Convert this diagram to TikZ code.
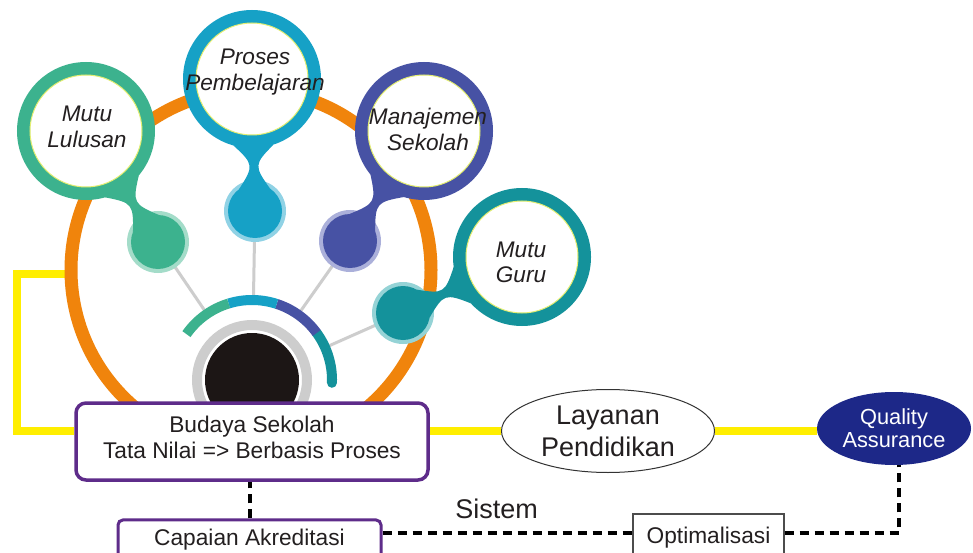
\documentclass[tikz,border=0pt]{standalone}
\usepackage{fontspec}
\setmainfont{Liberation Sans}
\usetikzlibrary{calc,shapes.geometric}
\pgfdeclarelayer{bg}
\pgfsetlayers{bg,main}
\definecolor{cgreen}{HTML}{3CB28E}
\definecolor{cgreenh}{HTML}{A4DCC9}
\definecolor{cblue}{HTML}{16A1C6}
\definecolor{cblueh}{HTML}{90D2E5}
\definecolor{cindigo}{HTML}{4752A4}
\definecolor{cindigoh}{HTML}{ABB0DA}
\definecolor{cteal}{HTML}{14929B}
\definecolor{ctealh}{HTML}{95D3D6}
\definecolor{corange}{HTML}{F0840C}
\definecolor{cyellow}{HTML}{FFEE00}
\definecolor{cpurple}{HTML}{5E2C8A}
\definecolor{cnavy}{HTML}{1D2888}
\definecolor{cgray}{HTML}{CDCDCD}
\definecolor{ctext}{HTML}{231F20}
\definecolor{cinner}{HTML}{E4EE70}
\definecolor{cblack}{HTML}{1C1615}
\newcommand\bubblering[3]{%
  \draw[#3, line width=13, fill=white] (#1,#2) circle[radius=62.5];
  \draw[cinner, line width=1] (#1,#2) circle[radius=56];}
\newcommand\necklink[7]{%
 \pgfmathsetmacro\nA{atan2(#5-#2,#4-#1)}%
 \pgfmathsetmacro\nD{veclen(#4-#1,#5-#2)}%
 \pgfmathsetmacro\nG{\nD-#3-#6}%
 \fill[#7] ({#1+#3*cos(\nA+17)},{#2+#3*sin(\nA+17)})
   .. controls ({#1+(#3+0.45*\nG)*cos(\nA)},{#2+(#3+0.45*\nG)*sin(\nA)}) and ({#1+(#3+0.5*\nG)*cos(\nA)},{#2+(#3+0.5*\nG)*sin(\nA)}) ..
   ({#4+#6*cos(\nA+145)},{#5+#6*sin(\nA+145)})
   -- ({#4+#6*cos(\nA+215)},{#5+#6*sin(\nA+215)})
   .. controls ({#1+(#3+0.5*\nG)*cos(\nA)},{#2+(#3+0.5*\nG)*sin(\nA)}) and ({#1+(#3+0.45*\nG)*cos(\nA)},{#2+(#3+0.45*\nG)*sin(\nA)}) ..
   ({#1+#3*cos(\nA-17)},{#2+#3*sin(\nA-17)}) -- cycle;}
\tikzset{
  bubbletext/.style={font=\itshape\fontsize{22.6}{25.5}\selectfont, text=ctext, align=center, inner sep=0},
  yline/.style={cyellow, line width=8},
  dline/.style={black, line width=4, dash pattern=on 9pt off 6pt},
  pbox/.style={draw=cpurple, fill=white, text=ctext, inner sep=0, align=center, font=\fontsize{22.7}{26}\selectfont},
  spoke/.style={cgray, line width=3},
}
\begin{document}
\begin{tikzpicture}[x=1pt,y=-1pt]
\clip (0,0) rectangle (973,553);
% named points
\coordinate (ctr) at (252,380);
\coordinate (sG) at (158,242);
\coordinate (sB) at (255,211);
\coordinate (sI) at (350,241);
\coordinate (sT) at (403,313);
\coordinate (yl0) at (70,274);
\coordinate (yl1) at (17,274);
\coordinate (dq) at (899,533);
% boxes and ellipses
\node[pbox, line width=3.5, rounded corners=10, minimum width=352, minimum height=77, text depth=8] (budaya) at (252,441.5) {Budaya Sekolah\\Tata Nilai => Berbasis Proses};
\node[pbox, line width=3, rounded corners=5, minimum width=263, minimum height=38.5] (capaian) at (249.5,539.2) {Capaian Akreditasi};
\node[draw=black!70, line width=1.2, fill=white, text=ctext, inner sep=0, minimum width=151, minimum height=46.4, font=\fontsize{22.7}{26}\selectfont] (optim) at (708.5,537.2) {Optimalisasi};
\node[ellipse, draw=black!80, line width=1, fill=white, text=ctext, inner sep=0, minimum width=213, minimum height=83, align=center, font=\fontsize{27}{32}\selectfont] (layanan) at (608,431) {Layanan\\Pendidikan};
\node[ellipse, fill=cnavy, text=white, inner sep=0, minimum width=154, minimum height=73, align=center, font=\fontsize{21.8}{23}\selectfont] (quality) at (894,428.5) {Quality\\Assurance};
\node[text=ctext, inner sep=0, anchor=base, font=\fontsize{27}{30}\selectfont] (sistem) at (496.5,518) {Sistem};
\begin{pgfonlayer}{bg}
\fill[white] (0,0) rectangle (973,553);
% yellow connectors
\draw[yline] (yl0) -- (yl1) -- (yl1 |- layanan.west) -- (budaya.west |- layanan.west);
\draw[yline] (budaya.east |- layanan.west) -- (layanan.west);
\draw[yline] (layanan.east) -- (quality.west |- layanan.east);
% orange ring
\draw[corange, line width=13] (251,270) circle[radius=180];
% spokes
\foreach \s in {sG,sB,sI,sT} \draw[spoke] ($(ctr)!85pt!(\s)$) -- (\s);
% gray ring and black core
\draw[cgray, line width=10] (ctr) circle[radius=55];
\fill[cblack] (ctr) circle[radius=47];
% segmented arc
\draw[cteal, line width=10, line cap=round] ([shift={(36:80pt)}]ctr) arc[start angle=36, end angle=-2, radius=80pt];
\draw[cindigo, line width=10] ([shift={(72:80pt)}]ctr) arc[start angle=72, end angle=36, radius=80pt];
\draw[cblue, line width=10] ([shift={(107:80pt)}]ctr) arc[start angle=107, end angle=72, radius=80pt];
\draw[cgreen, line width=10] ([shift={(145:80pt)}]ctr) arc[start angle=145, end angle=107, radius=80pt];
% halos
\fill[cgreenh] (sG) circle[radius=31];
\fill[cblueh] (sB) circle[radius=31];
\fill[cindigoh] (sI) circle[radius=31];
\fill[ctealh] (sT) circle[radius=31];
% necks
\necklink{86}{131}{69}{158}{242}{27}{cgreen}
\necklink{252}{79}{69}{255}{211}{27}{cblue}
\necklink{424}{131}{69}{350}{241}{27}{cindigo}
\necklink{522}{257}{69}{403}{313}{27}{cteal}
% big bubbles
\bubblering{86}{131}{cgreen}
\bubblering{252}{79}{cblue}
\bubblering{424}{131}{cindigo}
\bubblering{522}{257}{cteal}
% small drops
\fill[cgreen] (sG) circle[radius=27];
\fill[cblue] (sB) circle[radius=27];
\fill[cindigo] (sI) circle[radius=27];
\fill[cteal] (sT) circle[radius=27];
% bubble texts
\node[bubbletext] (tlulusan) at (87,127) {Mutu\\Lulusan};
\node[bubbletext] (tproses) at (255,72) {Proses\\Pembelajaran};
\node[bubbletext] (tmanaj) at (428,129.4) {Manajemen\\Sekolah};
\node[bubbletext] (tguru) at (521,262.4) {Mutu\\Guru};
\end{pgfonlayer}
% dashed connectors
\draw[dline] (capaian.north) -- (capaian.north |- budaya.south);
\draw[dline] (capaian.east |- dq) -- (optim.west |- dq);
\draw[dline] (optim.east |- dq) -- (dq) -- (dq |- quality.south);
\end{tikzpicture}
\end{document}
